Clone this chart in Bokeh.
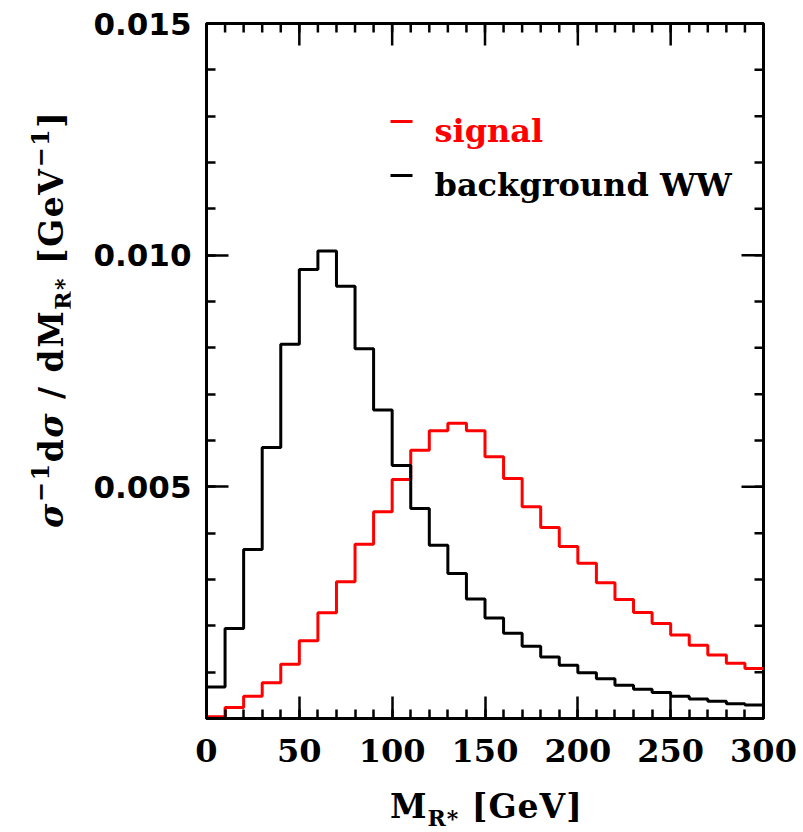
import math
from bokeh.plotting import figure
from bokeh.models import LinearAxis, FixedTicker, NumeralTickFormatter, Label, Div
from bokeh.layouts import row, column
from bokeh.embed import file_html
from bokeh.resources import INLINE

# ---------------- data ----------------
bin_left = [0, 10, 20, 30, 40, 50, 60, 70, 80, 90, 100, 110, 120, 130, 140,
            150, 160, 170, 180, 190, 200, 210, 220, 230, 240, 250, 260, 270, 280, 290]
bin_width = 10
signal = [0.00004, 0.00024, 0.00048, 0.00077, 0.00117, 0.00168, 0.00228, 0.00295,
          0.00376, 0.00446, 0.00516, 0.00579, 0.00621, 0.00637, 0.00621, 0.00565,
          0.00518, 0.00457, 0.00412, 0.00371, 0.00335, 0.00293, 0.00257, 0.00229,
          0.00205, 0.00180, 0.00158, 0.00137, 0.00119, 0.00108]
background = [0.00068, 0.00194, 0.00365, 0.00585, 0.00808, 0.00969, 0.01009, 0.00933,
              0.00798, 0.00666, 0.00546, 0.00453, 0.00374, 0.00313, 0.00258, 0.00217,
              0.00184, 0.00156, 0.00133, 0.00115, 0.00099, 0.00086, 0.00072, 0.00063,
              0.00056, 0.00048, 0.00042, 0.00037, 0.00032, 0.00029]
x_major = [0, 50, 100, 150, 200, 250, 300]
x_minor_step = 10
y_major = [0.005, 0.010, 0.015]
y_minor_step = 0.001
series_names = ["signal", "background WW"]
series_colors = ["#ff0000", "#000000"]

XMAX = 300
YMAX = 0.015

# ---------------- geometry (page px) ----------------
FL, FR, FT, FB = 206, 763, 23, 718   # frame edges
YDIV_W = 70
FIG_BOTTOM = 780

p = figure(frame_width=FR - FL, frame_height=FB - FT,
           x_range=(0, XMAX), y_range=(0, YMAX),
           x_axis_location=None, y_axis_location=None,
           min_border_left=FL - YDIV_W, min_border_top=FT,
           min_border_right=34, min_border_bottom=FIG_BOTTOM - FB,
           output_backend="svg", toolbar_location=None,
           background_fill_color="white", border_fill_color="white")
p.outline_line_color = "black"
p.outline_line_width = 3
p.xgrid.visible = False
p.ygrid.visible = False

def gx(px):
    return (px - FL) / (FR - FL) * XMAX

def gy(py):
    return (FB - py) / (FB - FT) * YMAX

x_minor = [i * x_minor_step for i in range(int(XMAX / x_minor_step) + 1)]
y_minor = [round(i * y_minor_step, 6) for i in range(int(round(YMAX / y_minor_step)) + 1)]
xt = FixedTicker(ticks=x_major, minor_ticks=x_minor)
yt = FixedTicker(ticks=y_major, minor_ticks=y_minor)

MAJ_LEN, MIN_LEN, TICK_W = 22, 9, 2.5

def style(ax):
    ax.axis_line_width = 3
    ax.axis_line_color = "black"
    ax.major_tick_in = MAJ_LEN
    ax.major_tick_out = 0
    ax.minor_tick_in = MIN_LEN
    ax.minor_tick_out = 0
    ax.major_tick_line_width = TICK_W
    ax.minor_tick_line_width = TICK_W
    ax.major_label_text_color = "black"

bx = LinearAxis(ticker=xt)
style(bx)
bx.major_label_text_font = "DejaVu Serif"
bx.major_label_text_font_style = "bold"
bx.major_label_text_font_size = "32px"
bx.major_label_standoff = 20
p.add_layout(bx, "below")

ly = LinearAxis(ticker=yt, formatter=NumeralTickFormatter(format="0.000"))
style(ly)
ly.major_label_text_font = "DejaVu Sans"
ly.major_label_text_font_style = "bold"
ly.major_label_text_font_size = "31px"
ly.major_label_standoff = 15
p.add_layout(ly, "left")

# mirrored ticks on the top and right edges
dxM = MAJ_LEN / (FR - FL) * XMAX
dxm = MIN_LEN / (FR - FL) * XMAX
dyM = MAJ_LEN / (FB - FT) * YMAX
dym = MIN_LEN / (FB - FT) * YMAX
top_x = x_minor + x_major
top_len = [dym] * len(x_minor) + [dyM] * len(x_major)
p.segment(x0=top_x, x1=top_x, y0=[YMAX] * len(top_x),
          y1=[YMAX - l for l in top_len], line_color="black", line_width=TICK_W)
right_y = y_minor + y_major
right_len = [dxm] * len(y_minor) + [dxM] * len(y_major)
p.segment(x0=[XMAX] * len(right_y), x1=[XMAX - l for l in right_len],
          y0=right_y, y1=right_y, line_color="black", line_width=TICK_W)

# ---------------- histograms ----------------
for vals, col in [(signal, series_colors[0]), (background, series_colors[1])]:
    xs = bin_left + [bin_left[-1] + bin_width]
    ys = vals + [vals[-1]]
    p.step(x=xs, y=ys, mode="after", line_color=col, line_width=3)

# ---------------- legend ----------------
leg_base = [130, 184]
for name, col, b in zip(series_names, series_colors, leg_base):
    p.segment(x0=[gx(390)], x1=[gx(412)], y0=[gy(b - 9)], y1=[gy(b - 9)],
              line_color=col, line_width=3)
    p.add_layout(Label(x=gx(434), y=gy(b), text=name, text_color=col,
                       text_font="DejaVu Serif", text_font_style="bold",
                       text_font_size="32px", text_baseline="alphabetic"))

# ---------------- axis titles (HTML) ----------------
FONT = "font-family:'DejaVu Serif'; font-weight:bold; font-size:33px; line-height:33px; white-space:nowrap; color:black;"
SUP = "font-size:24px; position:relative; top:-14px;"
SUB = "font-size:22px; position:relative; top:8px;"

y_html = (
    f"<div style=\"position:absolute; left:35px; top:528px; transform:rotate(-90deg); "
    f"transform-origin:left top; letter-spacing:1.5px; {FONT}\">"
    f"<i>σ</i><span style='{SUP}'>−1</span>d<i>σ</i>&nbsp;/&nbsp;dM"
    f"<span style='{SUB}'>R*</span>&nbsp;[GeV<span style='{SUP}'>−1</span>]</div>"
)
ydiv = Div(text=y_html, width=YDIV_W, height=FIG_BOTTOM, margin=0,
           styles={"position": "relative", "overflow": "visible"})

x_html = (
    f"<div style=\"position:absolute; left:390px; top:10px; letter-spacing:1px; {FONT}\">"
    f"M<span style='{SUB}'>R*</span>&nbsp;[GeV]</div>"
)
xdiv = Div(text=x_html, width=790, height=44, margin=0,
           styles={"position": "relative", "overflow": "visible"})

layout = column(row(ydiv, p, spacing=0), xdiv, spacing=0)

open("out.html", "w").write(file_html(layout, INLINE))
